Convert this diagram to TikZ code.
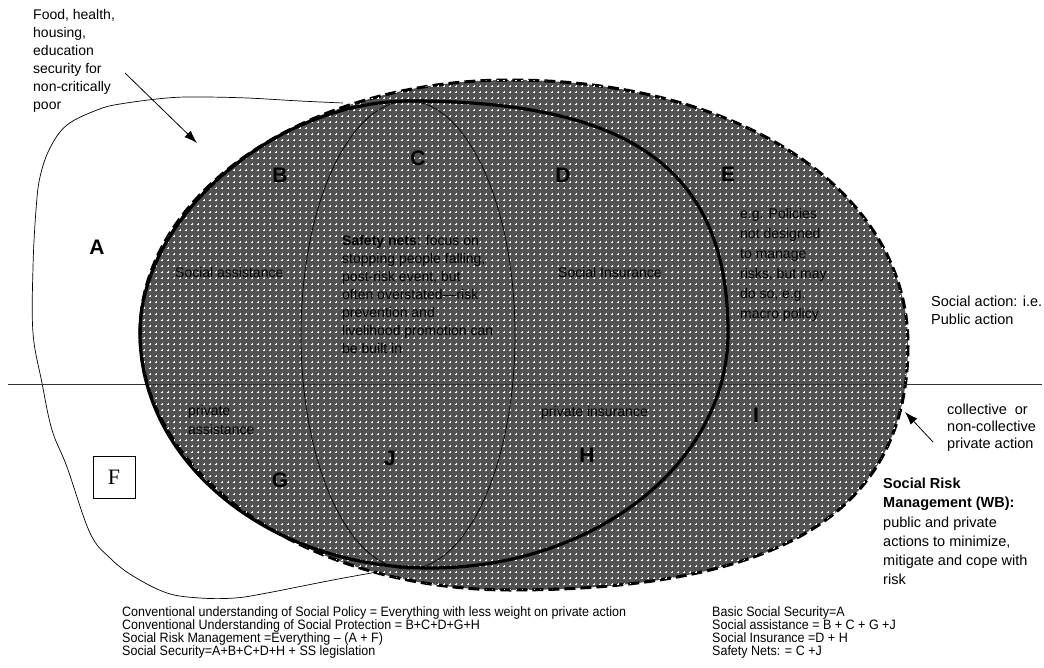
\documentclass[tikz,border=0pt]{standalone}
\usepackage{fontspec}
\setmainfont{Liberation Sans}
\newfontfamily\narrowfont[FakeStretch=0.92]{Liberation Sans}
\newfontfamily\seriffont{Liberation Serif}
\usepackage{tikz}
\usetikzlibrary{arrows.meta,patterns.meta}

\newcommand\tightlines{\lineskiplimit=-10pt\relax}

\tikzdeclarepattern{
  name=plusdots,
  type=uncolored,
  bottom left={(-3pt,-3pt)},
  top right={(3pt,3pt)},
  tile size={(6pt,6pt)},
  code={
    \draw[line width=0.9pt] (-1.4pt,0pt) -- (1.4pt,0pt) (0pt,-1.4pt) -- (0pt,1.4pt);
  }
}

\tikzset{
  letter/.style={font=\fontsize{21}{21}\selectfont\bfseries, inner sep=0pt},
  note/.style={font=\fontsize{14}{18}\selectfont, align=left, anchor=north west, inner sep=0pt},
  legend/.style={font=\narrowfont\fontsize{13.6}{13}\selectfont\tightlines, align=left, anchor=north west, inner sep=0pt},
  outerfill/.style={fill=black!68, postaction={pattern=plusdots, pattern color=white},
    draw, line width=3pt, dash pattern=on 11pt off 5pt},
  thickline/.style={draw, line width=3.2pt},
  thinline/.style={draw, line width=0.7pt},
  pointer/.style={-{Latex[length=13pt,width=9pt]}, line width=0.8pt}
}

\begin{document}
\begin{tikzpicture}[x=1pt,y=-1pt]
  \useasboundingbox (0,0) rectangle (1044,668) ; %Page frame

  \draw[thinline] plot[smooth, tension=0.6] coordinates {(343,103) (300,101) (247,98) (200,97) (167,98)
    (120,104) (97,110) (67,125) (50,148) (40,177) (36,210) (33,267) (33,333) (42,383) (52,430)
    (67,467) (90,533) (110,558) (133,576) (167,593) (200,598) (235,598) (267,593) (333,580) (377,572)} ; %Draw outline round A and F

  \path[outerfill] (140,333) .. controls (140,193) and (306,80) .. (510,80)
    .. controls (741,80) and (908,191) .. (908,345)
    .. controls (908,512) and (781,590) .. (510,590)
    .. controls (306,590) and (140,475) .. (140,333) -- cycle ; %Shade social risk management

  \draw[line width=0.8pt, black!80] (8,384) -- (1042,384) ; %Draw public/private divide

  \draw[thinline] (408,335) ellipse [x radius=107, y radius=234] ; %Draw safety nets

  \draw[thickline] (140,333) .. controls (140,217) and (275,101) .. (410,101)
    .. controls (633,101) and (728,171) .. (728,333)
    .. controls (728,463) and (595,568) .. (430,568)
    .. controls (270,568) and (140,463) .. (140,333) -- cycle ; %Draw social protection

  \node[letter] (lblA) at (97,247) {A} ; %Letter A
  \node[letter] (lblB) at (280,175) {B} ; %Letter B
  \node[letter] (lblC) at (418,158) {C} ; %Letter C
  \node[letter] (lblD) at (563,175) {D} ; %Letter D
  \node[letter] (lblE) at (728,174) {E} ; %Letter E
  \node[draw, line width=0.6pt, minimum size=42pt, inner sep=0pt,
        font=\seriffont\fontsize{22}{22}\selectfont] (lblF) at (114,477) {F} ; %Boxed letter F
  \node[letter] (lblG) at (280,480) {G} ; %Letter G
  \node[letter] (lblH) at (587,455) {H} ; %Letter H
  \node[letter] (lblI) at (756,415) {I} ; %Letter I
  \node[letter] (lblJ) at (390,458) {J} ; %Letter J

  \node[note] (food) at (33,9) {Food, health,\\housing,\\education\\security for\\non-critically\\poor} ; %Note on A
  \node[note, anchor=west] (socassist) at (175,272) {Social assistance} ; %Label B
  \node[note] (safety) at (342,235) {\textbf{Safety nets}: focus on\\stopping people falling,\\post-risk event, but\\often overstated—risk\\prevention and\\livelihood promotion can\\be built in} ; %Label C
  \node[note, anchor=west] (socins) at (558,272) {Social Insurance} ; %Label D
  \node[note, font=\fontsize{14}{20}\selectfont] (egpol) at (740,208) {e.g. Policies\\not designed\\to manage\\risks, but may\\do so, e.g.\\macro policy} ; %Label E
  \node[note, font=\fontsize{14.5}{18}\selectfont] (pubact) at (931,296) {Social action: i.e.\\Public action} ; %Upper half
  \node[note, font=\fontsize{14}{19}\selectfont] (privassist) at (188,405) {private\\assistance} ; %Label G
  \node[note, anchor=west] (privins) at (541,413) {private insurance} ; %Label H
  \node[note, font=\fontsize{14.5}{17}\selectfont] (privact) at (947,404) {collective\ \ or\\non-collective\\private action} ; %Lower half
  \node[note, font=\fontsize{14.5}{19.2}\selectfont] (srm) at (883,478) {\textbf{Social Risk}\\\textbf{Management (WB):}\\public and private\\actions to minimize,\\mitigate and cope with\\risk} ; %Note on dashed oval

  \node[legend] (defsleft) at (122,606) {Conventional understanding of Social Policy = Everything with less weight on private action\\Conventional Understanding of Social Protection = B+C+D+G+H\\Social Risk Management =Everything – (A + F)\\Social Security=A+B+C+D+H + SS legislation} ; %Definitions left
  \node[legend] (defsright) at (712,606) {Basic Social Security=A\\Social assistance = B + C + G +J\\Social Insurance =D + H\\Safety Nets: = C +J} ; %Definitions right

  \coordinate (foodtail) at (125,73) ; %Start of food arrow
  \coordinate (foodhead) at (197,143) ; %Tip of food arrow
  \coordinate (privtail) at (933,442) ; %Start of private arrow
  \coordinate (privhead) at (905,412) ; %Tip of private arrow
  \draw[pointer] (foodtail) -- (foodhead) ; %Draw arrow to A
  \draw[pointer] (privtail) -- (privhead) ; %Draw arrow to dashed oval
\end{tikzpicture}
\end{document}
